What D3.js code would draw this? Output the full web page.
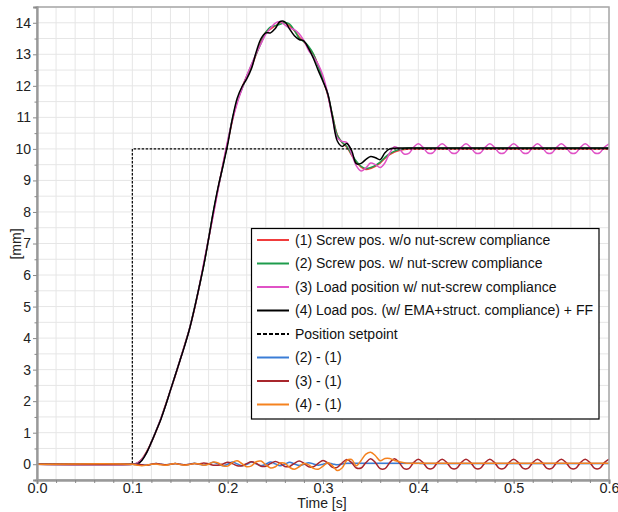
<!DOCTYPE html>
<html>
<head>
<meta charset="utf-8">
<script src="https://cdn.jsdelivr.net/npm/d3@7"></script>
<style>
  body { margin: 0; background: #fff; }
  svg { font-family: Arial, 'Liberation Sans', sans-serif; }
</style>
</head>
<body>
<svg id="chart"></svg>
<script>
// sample times [s]
const time = [0,
  0.100, 0.105, 0.110, 0.115, 0.120, 0.125, 0.130, 0.135, 0.140, 0.145,
  0.150, 0.155, 0.160, 0.165, 0.170, 0.175, 0.180, 0.185, 0.190, 0.195,
  0.200, 0.205, 0.210, 0.215, 0.220, 0.225, 0.230, 0.235, 0.240, 0.245,
  0.250, 0.255, 0.260, 0.265, 0.270, 0.275, 0.280, 0.285, 0.290, 0.295,
  0.300, 0.305, 0.310, 0.315, 0.320, 0.325, 0.330, 0.335, 0.340, 0.345,
  0.350, 0.355, 0.360, 0.365, 0.370, 0.375, 0.380, 0.385, 0.390, 0.395,
  0.400, 0.405, 0.410, 0.415, 0.420, 0.425, 0.430, 0.435, 0.440, 0.445,
  0.450, 0.455, 0.460, 0.465, 0.470, 0.475, 0.480, 0.485, 0.490, 0.495,
  0.500, 0.505, 0.510, 0.515, 0.520, 0.525, 0.530, 0.535, 0.540, 0.545,
  0.550, 0.555, 0.560, 0.565, 0.570, 0.575, 0.580, 0.585, 0.590, 0.595,
  0.600]

// (1) screw position w/o nut-screw compliance [mm]
const screwNoComp = [0,
  0, 0.03, 0.17, 0.4, 0.7, 1.05, 1.45, 1.9, 2.35, 2.8,
  3.3, 3.8, 4.3, 4.9, 5.6, 6.35, 7.15, 7.95, 8.75, 9.5,
  10.2, 10.9, 11.5, 11.95, 12.3, 12.6, 13.0, 13.4, 13.7, 13.8,
  13.9, 14.0, 14.0, 13.9, 13.75, 13.55, 13.4, 13.2, 13.0, 12.65,
  12.2, 11.7, 11.05, 10.45, 10.2, 10.05, 9.8, 9.58, 9.42, 9.35,
  9.38, 9.45, 9.55, 9.7, 9.82, 9.9, 9.95, 9.98, 10, 10,
  10, 10, 10, 10, 10, 10, 10, 10, 10, 10,
  10, 10, 10, 10, 10, 10, 10, 10, 10, 10,
  10, 10, 10, 10, 10, 10, 10, 10, 10, 10,
  10, 10, 10, 10, 10, 10, 10, 10, 10, 10,
  10]

// (2) screw position w/ nut-screw compliance
const screwComp = [0,
  0, 0.03, 0.15, 0.37, 0.7, 1.07, 1.45, 1.88, 2.35, 2.82,
  3.3, 3.78, 4.3, 4.93, 5.6, 6.32, 7.16, 8.01, 8.76, 9.45,
  10.2, 10.97, 11.51, 11.9, 12.3, 12.67, 13.01, 13.35, 13.7, 13.87,
  13.91, 13.95, 14.0, 13.96, 13.76, 13.51, 13.4, 13.25, 13.01, 12.62,
  12.2, 11.74, 11.06, 10.43, 10.21, 10.08, 9.83, 9.61, 9.45, 9.38,
  9.41, 9.48, 9.58, 9.73, 9.85, 9.93, 9.98, 10.01, 10.03, 10.03,
  10.03, 10.02, 10.02, 10.02, 10.02, 10.02, 10.02, 10.02, 10.02, 10.02,
  10.02, 10.02, 10.02, 10.02, 10.02, 10.02, 10.02, 10.02, 10.02, 10.02,
  10.02, 10.02, 10.02, 10.02, 10.02, 10.02, 10.02, 10.02, 10.02, 10.02,
  10.02, 10.02, 10.02, 10.02, 10.02, 10.02, 10.02, 10.02, 10.02, 10.02,
  10.02]

// (3) load position w/ nut-screw compliance
const loadComp = [0,
  0, 0.03, 0.15, 0.37, 0.7, 1.07, 1.45, 1.88, 2.35, 2.82,
  3.3, 3.78, 4.3, 4.92, 5.61, 6.39, 7.16, 7.92, 8.72, 9.51,
  10.26, 10.92, 11.45, 11.9, 12.32, 12.68, 13.03, 13.34, 13.64, 13.83,
  13.99, 14.03, 13.93, 13.83, 13.78, 13.65, 13.43, 13.12, 12.92, 12.68,
  12.32, 11.74, 10.95, 10.35, 10.24, 10.2, 9.85, 9.46, 9.3, 9.4,
  9.55, 9.5, 9.41, 9.56, 9.87, 10.07, 10.0, 9.84, 9.86, 10.05,
  10.16, 10.05, 9.87, 9.87, 10.05, 10.16, 10.05, 9.87, 9.87, 10.05,
  10.16, 10.05, 9.87, 9.87, 10.05, 10.16, 10.05, 9.87, 9.87, 10.05,
  10.16, 10.05, 9.87, 9.87, 10.05, 10.16, 10.05, 9.87, 9.87, 10.05,
  10.16, 10.05, 9.87, 9.87, 10.05, 10.16, 10.05, 9.87, 9.87, 10.05,
  10.16]

// (4) load position (EMA + structural compliance) + feed-forward
const loadFF = [0,
  0, 0, 0.12, 0.37, 0.7, 1.06, 1.43, 1.87, 2.35, 2.82,
  3.29, 3.77, 4.29, 4.92, 5.61, 6.32, 7.15, 8.02, 8.79, 9.45,
  10.14, 10.96, 11.61, 11.97, 12.22, 12.55, 13.08, 13.5, 13.68, 13.68,
  13.82, 14.04, 14.03, 13.8, 13.59, 13.47, 13.42, 13.18, 12.87, 12.49,
  12.14, 11.75, 11.0, 10.25, 10.08, 10.17, 9.95, 9.53, 9.54, 9.67,
  9.76, 9.72, 9.66, 9.88, 10.0, 10.02, 10.03, 10.03, 10.03, 10.03,
  10.03, 10.03, 10.03, 10.03, 10.03, 10.03, 10.03, 10.03, 10.03, 10.03,
  10.03, 10.03, 10.03, 10.03, 10.03, 10.03, 10.03, 10.03, 10.03, 10.03,
  10.03, 10.03, 10.03, 10.03, 10.03, 10.03, 10.03, 10.03, 10.03, 10.03,
  10.03, 10.03, 10.03, 10.03, 10.03, 10.03, 10.03, 10.03, 10.03, 10.03,
  10.03]

// (2) - (1)
const diff21 = [0,
  0, 0, -0.02, -0.03, 0, 0.02, 0, -0.02, 0, 0.02,
  0, -0.02, 0, 0.03, 0, -0.03, 0.01, 0.06, 0.01, -0.05,
  0, 0.07, 0.01, -0.05, 0, 0.07, 0.01, -0.05, 0, 0.07,
  0.01, -0.05, 0, 0.06, 0.01, -0.04, 0, 0.05, 0.01, -0.03,
  0, 0.04, 0.01, -0.02, 0.01, 0.03, 0.03, 0.03, 0.03, 0.03,
  0.03, 0.03, 0.03, 0.03, 0.03, 0.03, 0.03, 0.03, 0.03, 0.03,
  0.03, 0.02, 0.02, 0.02, 0.02, 0.02, 0.02, 0.02, 0.02, 0.02,
  0.02, 0.02, 0.02, 0.02, 0.02, 0.02, 0.02, 0.02, 0.02, 0.02,
  0.02, 0.02, 0.02, 0.02, 0.02, 0.02, 0.02, 0.02, 0.02, 0.02,
  0.02, 0.02, 0.02, 0.02, 0.02, 0.02, 0.02, 0.02, 0.02, 0.02,
  0.02]

// (3) - (1)
const diff31 = [0,
  0, 0, -0.02, -0.03, 0, 0.02, 0, -0.02, 0, 0.02,
  0, -0.02, 0, 0.02, 0.01, 0.04, 0.01, -0.03, -0.03, 0.01,
  0.06, 0.02, -0.05, -0.05, 0.02, 0.08, 0.025, -0.065, -0.065, 0.025,
  0.09, 0.03, -0.07, -0.07, 0.03, 0.1, 0.03, -0.08, -0.08, 0.03,
  0.12, 0.04, -0.1, -0.1, 0.04, 0.15, 0.05, -0.12, -0.12, 0.05,
  0.17, 0.05, -0.14, -0.14, 0.05, 0.17, 0.05, -0.14, -0.14, 0.05,
  0.16, 0.05, -0.13, -0.13, 0.05, 0.16, 0.05, -0.13, -0.13, 0.05,
  0.16, 0.05, -0.13, -0.13, 0.05, 0.16, 0.05, -0.13, -0.13, 0.05,
  0.16, 0.05, -0.13, -0.13, 0.05, 0.16, 0.05, -0.13, -0.13, 0.05,
  0.16, 0.05, -0.13, -0.13, 0.05, 0.16, 0.05, -0.13, -0.13, 0.05,
  0.16]

// (4) - (1)
const diff41 = [0,
  0, -0.03, -0.05, -0.03, 0, 0.01, -0.02, -0.03, 0, 0.02,
  -0.01, -0.03, -0.01, 0.02, 0.01, -0.03, 0, 0.07, 0.04, -0.05,
  -0.06, 0.06, 0.11, 0.02, -0.08, -0.05, 0.08, 0.1, -0.02, -0.12,
  -0.08, 0.04, 0.03, -0.1, -0.16, -0.08, 0.02, -0.02, -0.13, -0.16,
  -0.06, 0.05, -0.05, -0.2, -0.12, 0.12, 0.15, -0.05, 0.12, 0.32,
  0.38, 0.27, 0.11, 0.18, 0.18, 0.12, 0.08, 0.05, 0.03, 0.03,
  0.03, 0.03, 0.03, 0.03, 0.03, 0.03, 0.03, 0.03, 0.03, 0.03,
  0.03, 0.03, 0.03, 0.03, 0.03, 0.03, 0.03, 0.03, 0.03, 0.03,
  0.03, 0.03, 0.03, 0.03, 0.03, 0.03, 0.03, 0.03, 0.03, 0.03,
  0.03, 0.03, 0.03, 0.03, 0.03, 0.03, 0.03, 0.03, 0.03, 0.03,
  0.03]

// position setpoint (step at 0.1 s)
const setpointTime = [0, 0.1, 0.1, 0.6]
const setpointValue = [0, 0, 10, 10]

const xTicks = [0, 0.1, 0.2, 0.3, 0.4, 0.5, 0.6]
const yTicks = [0, 1, 2, 3, 4, 5, 6, 7, 8, 9, 10, 11, 12, 13, 14]

const legendLabels = [
  '(1) Screw pos. w/o nut-screw compliance',
  '(2) Screw pos. w/ nut-screw compliance',
  '(3) Load position w/ nut-screw compliance',
  '(4) Load pos. (w/ EMA+struct. compliance) + FF',
  'Position setpoint',
  '(2) - (1)',
  '(3) - (1)',
  '(4) - (1)'
]
const colors = ['#f03c3c', '#1e9c4c', '#e052c6', '#000000', '#000000', '#3a7dd6', '#a8262c', '#f5821f']

const width = 618
const height = 512

const svg = d3.select('#chart')
  .attr('width', width)
  .attr('height', height)

const x = d3.scaleLinear().domain([0, 0.6]).range([37, 609])
const y = d3.scaleLinear().domain([-0.5, 14.5]).range([480, 7])

// grid
svg.append('g')
  .selectAll('line')
  .data(x.ticks(30))
  .enter().append('line')
  .attr('x1', d => x(d)).attr('x2', d => x(d))
  .attr('y1', y.range()[0]).attr('y2', y.range()[1])
  .attr('stroke', '#e6e6e6')
  .attr('stroke-width', 1)

svg.append('g')
  .selectAll('line')
  .data(y.ticks(30))
  .enter().append('line')
  .attr('x1', x.range()[0]).attr('x2', x.range()[1])
  .attr('y1', d => y(d)).attr('y2', d => y(d))
  .attr('stroke', '#e6e6e6')
  .attr('stroke-width', 1)

svg.append('defs').append('clipPath').attr('id', 'plot')
  .append('rect')
  .attr('x', x.range()[0]).attr('y', y.range()[1])
  .attr('width', x.range()[1] - x.range()[0])
  .attr('height', y.range()[0] - y.range()[1])

const series = [screwNoComp, screwComp, loadComp, loadFF, null, diff21, diff31, diff41]

const line = d3.line()
  .x(d => x(d[0]))
  .y(d => y(d[1]))
  .curve(d3.curveCatmullRom.alpha(0.5))

const plot = svg.append('g').attr('clip-path', 'url(#plot)')

series.forEach((values, i) => {
  if (values === null) {
    plot.append('path')
      .datum(d3.zip(setpointTime, setpointValue))
      .attr('d', d3.line().x(d => x(d[0])).y(d => y(d[1])))
      .attr('fill', 'none')
      .attr('stroke', '#000')
      .attr('stroke-width', 1.2)
      .attr('stroke-dasharray', '2.5,1.5')
    return
  }
  plot.append('path')
    .datum(d3.zip(time, values))
    .attr('d', line)
    .attr('fill', 'none')
    .attr('stroke', colors[i])
    .attr('stroke-width', 1.5)
})

// frame
svg.append('rect')
  .attr('x', x.range()[0]).attr('y', y.range()[1])
  .attr('width', x.range()[1] - x.range()[0])
  .attr('height', y.range()[0] - y.range()[1])
  .attr('fill', 'none')
  .attr('stroke', '#a8a8a8')
  .attr('stroke-width', 1.5)

// axes
const yAxis = svg.append('g')
  .attr('transform', `translate(${x.range()[0]},0)`)
  .call(d3.axisLeft(y).tickValues(yTicks).tickSize(4).tickPadding(2))
const yMinor = svg.append('g')
  .attr('transform', `translate(${x.range()[0]},0)`)
  .call(d3.axisLeft(y).tickValues(yTicks.map(d => d + 0.5).concat([-0.5])).tickSize(2.5).tickFormat(''))

const xAxis = svg.append('g')
  .attr('transform', `translate(0,${y.range()[0]})`)
  .call(d3.axisBottom(x).tickValues(xTicks).tickSize(4).tickPadding(-1.5).tickFormat(d3.format('.1f')))
const xMinor = svg.append('g')
  .attr('transform', `translate(0,${y.range()[0]})`)
  .call(d3.axisBottom(x).ticks(30).tickSize(3).tickFormat(''))

;[yAxis, yMinor, xAxis, xMinor].forEach(g => {
  g.select('.domain').attr('stroke', '#999').attr('stroke-width', 1.8)
  g.selectAll('.tick line').attr('stroke', '#888')
})
yAxis.selectAll('text').attr('font-size', 14).attr('fill', '#222').attr('font-family', 'Arial, Liberation Sans, sans-serif')
xAxis.selectAll('text').attr('font-size', 14.5).attr('fill', '#222').attr('font-family', 'Arial, Liberation Sans, sans-serif')

// axis titles
svg.append('text')
  .attr('x', 322).attr('y', 507.5)
  .attr('text-anchor', 'middle')
  .attr('font-size', 14)
  .attr('fill', '#222')
  .text('Time [s]')

svg.append('text')
  .attr('transform', 'translate(21,244) rotate(-90)')
  .attr('text-anchor', 'middle')
  .attr('font-size', 14)
  .attr('fill', '#222')
  .text('[mm]')

// legend
const legend = svg.append('g')
legend.append('rect')
  .attr('x', 251.5).attr('y', 228.5)
  .attr('width', 347.5).attr('height', 190.5)
  .attr('fill', '#fff')
  .attr('stroke', '#000')
  .attr('stroke-width', 1.2)

const rows = legend.selectAll('g.row')
  .data(legendLabels)
  .enter().append('g')
  .attr('class', 'row')
  .attr('transform', (d, i) => `translate(257,${240 + i * 23.5})`)

rows.append('line')
  .attr('x1', 0).attr('x2', 32)
  .attr('stroke', (d, i) => colors[i])
  .attr('stroke-width', 2)
  .attr('stroke-dasharray', (d, i) => series[i] === null ? '4,2' : null)

rows.append('text')
  .attr('x', 38)
  .attr('dy', '0.35em')
  .attr('font-size', 14)
  .attr('fill', '#111')
  .text(d => d)
</script>
</body>
</html>
